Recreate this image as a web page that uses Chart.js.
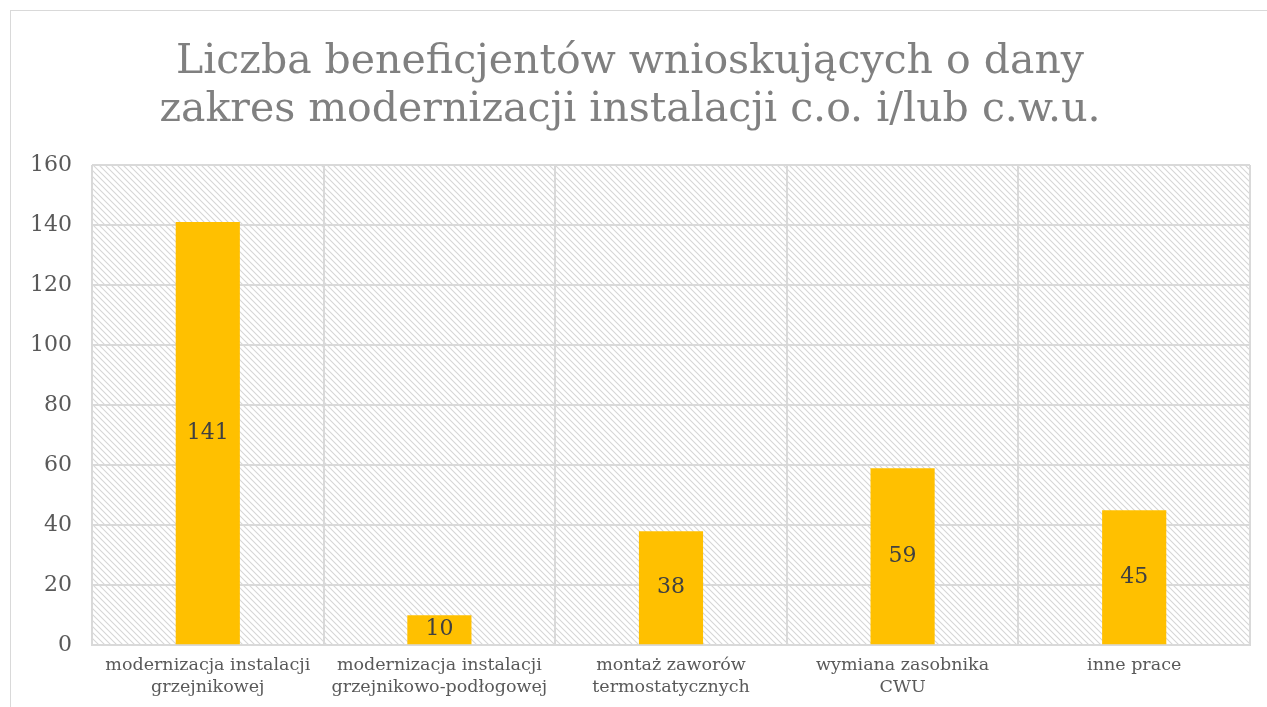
<!DOCTYPE html>
<html>
<head>
<meta charset="utf-8">
<script src="https://cdn.jsdelivr.net/npm/chart.js@4"></script>
<style>
  html, body { margin: 0; padding: 0; background: #fff; }
  #frame { position: absolute; left: 10px; top: 10px; width: 1300px; height: 750px; border: 1px solid #d9d9d9; box-sizing: border-box; }
  #wrap { position: absolute; left: 0; top: 0; width: 1267px; height: 707px; }
</style>
</head>
<body>
<div id="frame"></div>
<div id="wrap"><canvas id="chart"></canvas></div>
<script>
const categories = [
    ['modernizacja instalacji', 'grzejnikowej'],
    ['modernizacja instalacji', 'grzejnikowo-podłogowej'],
    ['montaż zaworów', 'termostatycznych'],
    ['wymiana zasobnika', 'CWU'],
    'inne prace'
];
const values = [141, 10, 38, 59, 45];
const titleLines = ['Liczba beneficjentów wnioskujących o dany', 'zakres modernizacji instalacji c.o. i/lub c.w.u.'];

function makeHatch() {
    const c = document.createElement('canvas');
    c.width = 6; c.height = 6;
    const g = c.getContext('2d');
    g.fillStyle = '#ffffff';
    g.fillRect(0, 0, 6, 6);
    g.strokeStyle = '#d6d6d6';
    g.lineWidth = 1.1;
    g.beginPath();
    g.moveTo(-1, -1); g.lineTo(7, 7);
    g.moveTo(-4, 2); g.lineTo(4, 10);
    g.moveTo(2, -4); g.lineTo(10, 4);
    g.stroke();
    return g.createPattern(c, 'repeat');
}

const hatchBackground = {
    id: 'hatchBackground',
    beforeDraw(chart) {
        const { ctx, chartArea } = chart;
        ctx.save();
        ctx.fillStyle = makeHatch();
        ctx.fillRect(chartArea.left, chartArea.top, chartArea.width, chartArea.height);
        ctx.restore();
    }
};

// value labels in the middle of each bar
const barLabels = {
    id: 'barLabels',
    afterDatasetsDraw(chart) {
        const { ctx } = chart;
        const meta = chart.getDatasetMeta(0);
        ctx.save();
        ctx.fillStyle = '#404040';
        ctx.font = '22px "DejaVu Serif"';
        ctx.textAlign = 'center';
        ctx.textBaseline = 'middle';
        meta.data.forEach((bar, i) => {
            const y = (bar.y + bar.base) / 2;
            ctx.fillText(String(values[i]), bar.x, y);
        });
        ctx.restore();
    }
};

const ctx = document.getElementById('chart');
ctx.chart = new Chart(ctx, {
    type: 'bar',
    data: {
        labels: categories,
        datasets: [{
            data: values,
            backgroundColor: '#FFC000',
            borderWidth: 0,
            barPercentage: 0.277,
            categoryPercentage: 1
        }]
    },
    options: {
        responsive: true,
        maintainAspectRatio: false,
        animation: false,
        layout: { padding: { left: 10, right: 17, top: 38, bottom: 0 } },
        plugins: {
            legend: { display: false },
            tooltip: { enabled: false },
            title: {
                display: true,
                text: titleLines,
                color: '#808080',
                font: { family: '"DejaVu Serif"', size: 41, weight: 'normal', lineHeight: 1.17 },
                padding: { top: 0, bottom: 31 }
            }
        },
        scales: {
            y: {
                min: 0,
                max: 160,
                ticks: {
                    stepSize: 20,
                    color: '#595959',
                    font: { family: '"DejaVu Serif"', size: 22 },
                    padding: 20
                },
                grid: { color: '#d9d9d9', lineWidth: 2, drawTicks: false },
                border: { display: false }
            },
            x: {
                ticks: {
                    color: '#595959',
                    font: { family: '"DejaVu Serif"', size: 17.5, lineHeight: 1.25 },
                    maxRotation: 0,
                    padding: 9
                },
                grid: { color: '#d9d9d9', lineWidth: 2, drawTicks: false, offset: true },
                border: { color: '#d9d9d9', width: 2 }
            }
        }
    },
    plugins: [hatchBackground, barLabels]
});
</script>
</body>
</html>
